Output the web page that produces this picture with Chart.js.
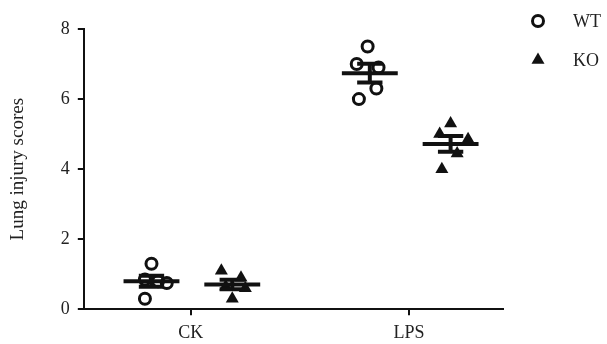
<!DOCTYPE html>
<html>
<head>
<meta charset="utf-8">
<script src="https://cdn.jsdelivr.net/npm/chart.js@4.4.1/dist/chart.umd.min.js"></script>
<style>
  html, body { margin: 0; padding: 0; background: #fff; }
  #wrap { width: 607px; height: 344px; position: relative; }
</style>
</head>
<body>
<div id="wrap"><canvas id="chart"></canvas></div>
<script>
// categories and their position on the x axis
const groups = ['CK', 'LPS'];
const groupPos = [1, 2];
const yTicks = [0, 2, 4, 6, 8];

// individual scores
const wtCK = [1.3, 0.85, 0.8, 0.75, 0.3];
const wtLPS = [7.5, 7.0, 6.9, 6.3, 6.0];
const koCK = [1.1, 0.9, 0.65, 0.6, 0.3];
const koLPS = [5.3, 5.0, 4.85, 4.45, 4.0];

// horizontal scatter of the dots inside each column (x units)
const wtCKJitter = [0.0, -0.03, 0.03, 0.07, -0.03];
const wtLPSJitter = [-0.01, -0.06, 0.04, 0.03, -0.05];
const koCKJitter = [-0.05, 0.04, -0.03, 0.06, 0.0];
const koLPSJitter = [0.0, -0.05, 0.08, 0.03, -0.04];

const wtShift = -0.18;
const koShift = 0.19;
const meanHalf = 0.128;
const capHalf = 0.058;

const ink = '#111';

function mean(a) {
  return a.reduce((s, v) => s + v, 0) / a.length;
}
function sem(a) {
  const m = mean(a);
  const v = a.reduce((s, x) => s + (x - m) * (x - m), 0) / (a.length - 1);
  return Math.sqrt(v / a.length);
}

function dots(vals, jitter, cx) {
  return vals.map((v, i) => ({ x: cx + jitter[i], y: v }));
}

// mean bar + SEM whiskers as broken line segments
function summary(sets, shift) {
  const pts = [];
  sets.forEach((vals, g) => {
    const cx = groupPos[g] + shift;
    const m = mean(vals);
    const s = sem(vals);
    pts.push({ x: cx - meanHalf, y: m }, { x: cx + meanHalf, y: m }, { x: cx, y: null });
    pts.push({ x: cx, y: m - s }, { x: cx, y: m + s }, { x: cx, y: null });
    pts.push({ x: cx - capHalf, y: m + s }, { x: cx + capHalf, y: m + s }, { x: cx, y: null });
    pts.push({ x: cx - capHalf, y: m - s }, { x: cx + capHalf, y: m - s }, { x: cx, y: null });
  });
  return pts;
}

const wtDots = dots(wtCK, wtCKJitter, groupPos[0] + wtShift)
  .concat(dots(wtLPS, wtLPSJitter, groupPos[1] + wtShift));
const koDots = dots(koCK, koCKJitter, groupPos[0] + koShift)
  .concat(dots(koLPS, koLPSJitter, groupPos[1] + koShift));

// small key drawn at the right of the plot
const sideKey = {
  id: 'sideKey',
  afterDraw(chart) {
    const ctx = chart.ctx;
    const area = chart.chartArea;
    const items = [
      { label: 'WT', style: 'circle', r: 5.5, bw: 3, fill: 'rgba(0,0,0,0)' },
      { label: 'KO', style: 'triangle', r: 7.5, bw: 0, fill: ink }
    ];
    ctx.save();
    items.forEach((it, i) => {
      const y = area.top - 8 + i * 39;
      ctx.fillStyle = it.fill;
      ctx.strokeStyle = ink;
      ctx.lineWidth = it.bw;
      Chart.helpers.drawPoint(ctx, { pointStyle: it.style, radius: it.r, borderWidth: it.bw, rotation: 0 }, area.right + 35, y);
      ctx.fillStyle = '#222';
      ctx.font = '18px "Liberation Serif"';
      ctx.textBaseline = 'middle';
      ctx.textAlign = 'left';
      ctx.fillText(it.label, area.right + 70, y + 1);
    });
    ctx.restore();
  }
};

new Chart(document.getElementById('chart'), {
  type: 'scatter',
  data: {
    datasets: [
      {
        label: 'WT',
        data: wtDots,
        pointStyle: 'circle',
        pointRadius: 5.5,
        pointHoverRadius: 5.5,
        borderWidth: 3,
        borderColor: ink,
        backgroundColor: 'rgba(0,0,0,0)',
        order: 2
      },
      {
        label: 'KO',
        data: koDots,
        pointStyle: 'triangle',
        pointRadius: 7.5,
        pointHoverRadius: 7.5,
        borderWidth: 0,
        borderColor: ink,
        backgroundColor: ink,
        order: 2
      },
      {
        label: 'WT mean',
        type: 'line',
        data: summary([wtCK, wtLPS], wtShift),
        borderColor: ink,
        borderWidth: 4,
        borderCapStyle: 'butt',
        pointRadius: 0,
        spanGaps: false,
        order: 1
      },
      {
        label: 'KO mean',
        type: 'line',
        data: summary([koCK, koLPS], koShift),
        borderColor: ink,
        borderWidth: 4,
        borderCapStyle: 'butt',
        pointRadius: 0,
        spanGaps: false,
        order: 1
      }
    ]
  },
  options: {
    responsive: true,
    maintainAspectRatio: false,
    animation: false,
    layout: { padding: { top: 29, right: 104, bottom: -8, left: 6 } },
    plugins: {
      legend: { display: false },
      tooltip: { enabled: false }
    },
    scales: {
      x: {
        type: 'linear',
        min: 0.51,
        max: 2.43,
        afterBuildTicks: (axis) => { axis.ticks = groupPos.map(v => ({ value: v })); },
        ticks: {
          color: '#222',
          font: { family: 'Liberation Serif', size: 18, lineHeight: 1.15 },
          padding: 8,
          callback: (v) => groups[groupPos.indexOf(v)]
        },
        grid: { drawOnChartArea: false, drawTicks: true, tickLength: 6, color: ink, lineWidth: 2 },
        border: { display: true, color: ink, width: 2 }
      },
      y: {
        min: 0,
        max: 8,
        afterBuildTicks: (axis) => { axis.ticks = yTicks.map(v => ({ value: v })); },
        ticks: {
          color: '#222',
          font: { family: 'Liberation Serif', size: 18 },
          padding: 8
        },
        grid: { drawOnChartArea: false, drawTicks: true, tickLength: 6, color: ink, lineWidth: 2 },
        border: { display: true, color: ink, width: 2 },
        title: {
          display: true,
          text: 'Lung injury scores',
          color: '#222',
          font: { family: 'Liberation Serif', size: 19 },
          padding: { top: 1, bottom: 23 }
        }
      }
    }
  },
  plugins: [sideKey]
});
</script>
</body>
</html>
